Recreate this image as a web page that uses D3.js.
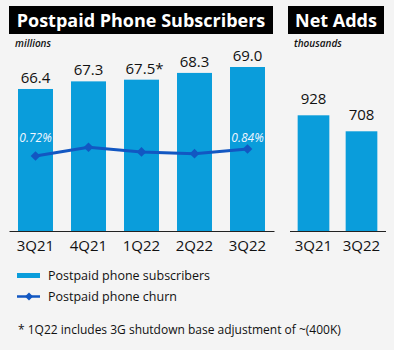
<!DOCTYPE html>
<html>
<head>
<meta charset="utf-8">
<script src="https://cdn.jsdelivr.net/npm/d3@7"></script>
<style>
  body { margin: 0; background: #f4f4f4; }
  svg { display: block; font-family: "Open Sans", sans-serif; }
</style>
</head>
<body>
<script>
const width = 394;
const height = 350;

// Data
const quarters = ["3Q21", "4Q21", "1Q22", "2Q22", "3Q22"];
const subscribers = [66.4, 67.3, 67.5, 68.3, 69.0];
const subLabels = ["66.4", "67.3", "67.5*", "68.3", "69.0"];
const churn = [0.72, 0.87, 0.79, 0.76, 0.84];
const churnLabels = ["0.72%", "", "", "", "0.84%"];
const addQuarters = ["3Q21", "3Q22"];
const netAdds = [928, 708];

const barColor = "#0a9ddb";
const lineColor = "#1257c2";

const svg = d3.select("body").append("svg")
    .attr("width", width)
    .attr("height", height);

svg.append("rect")
    .attr("width", width)
    .attr("height", height)
    .attr("fill", "#f4f4f4");

// Title boxes
function titleBox(x, w, text) {
    svg.append("rect")
        .attr("x", x).attr("y", 6)
        .attr("width", w).attr("height", 28)
        .attr("fill", "#000");
    svg.append("text")
        .attr("x", x + w / 2).attr("y", 27)
        .attr("text-anchor", "middle")
        .attr("fill", "#fff")
        .attr("font-weight", 700)
        .attr("font-size", 18)
        .text(text);
}
titleBox(9, 264, "Postpaid Phone Subscribers");
titleBox(288, 96, "Net Adds");

svg.append("text")
    .attr("x", 15).attr("y", 47)
    .attr("font-size", 10).attr("font-style", "italic").attr("font-weight", 600)
    .attr("fill", "#111")
    .text("millions");
svg.append("text")
    .attr("x", 294).attr("y", 47)
    .attr("font-size", 10).attr("font-style", "italic").attr("font-weight", 600)
    .attr("fill", "#111")
    .text("thousands");

const baseY = 231;

// Left chart: subscribers
const x = d3.scaleBand()
    .domain(quarters)
    .range([9, 274])
    .paddingInner(0.34)
    .paddingOuter(0.17);

const y = d3.scaleLinear()
    .domain([49.6, 69.0])
    .range([baseY, 67]);

svg.selectAll(".bar")
    .data(subscribers)
    .enter().append("rect")
    .attr("class", "bar")
    .attr("x", (d, i) => x(quarters[i]))
    .attr("y", d => y(d))
    .attr("width", x.bandwidth())
    .attr("height", d => baseY - y(d))
    .attr("fill", barColor);

svg.selectAll(".bar-label")
    .data(subscribers)
    .enter().append("text")
    .attr("class", "bar-label")
    .attr("x", (d, i) => x(quarters[i]) + x.bandwidth() / 2 + (subLabels[i].endsWith("*") ? 3 : 0))
    .attr("y", d => y(d) - 6)
    .attr("text-anchor", "middle")
    .attr("font-size", 15)
    .attr("fill", "#111")
    .text((d, i) => subLabels[i]);

// Churn line
const yc = d3.scaleLinear()
    .domain([0.72, 0.84])
    .range([156, 149]);

const line = d3.line()
    .x((d, i) => x(quarters[i]) + x.bandwidth() / 2)
    .y(d => yc(d));

svg.append("path")
    .datum(churn)
    .attr("d", line)
    .attr("fill", "none")
    .attr("stroke", lineColor)
    .attr("stroke-width", 3);

const diamond = d3.symbol().type(d3.symbolDiamond2).size(60);

svg.selectAll(".churn-pt")
    .data(churn)
    .enter().append("path")
    .attr("class", "churn-pt")
    .attr("transform", (d, i) => `translate(${x(quarters[i]) + x.bandwidth() / 2},${yc(d)})`)
    .attr("d", diamond)
    .attr("fill", lineColor);

svg.selectAll(".churn-label")
    .data(churn)
    .enter().append("text")
    .attr("class", "churn-label")
    .attr("x", (d, i) => x(quarters[i]) + x.bandwidth() / 2)
    .attr("y", 142)
    .attr("text-anchor", "middle")
    .attr("font-size", 12)
    .attr("font-style", "italic")
    .attr("fill", "#f0f6ff")
    .text((d, i) => churnLabels[i]);

// Left axis
const xAxis = svg.append("g")
    .attr("transform", `translate(0,${baseY})`)
    .call(d3.axisBottom(x).tickSize(0).tickSizeOuter(0).tickPadding(9));

// Right chart: net adds
const x2 = d3.scaleBand()
    .domain(addQuarters)
    .range([289.5, 385.5])
    .paddingInner(0.34)
    .paddingOuter(0.17);

const y2 = d3.scaleLinear()
    .domain([-663, 928])
    .range([baseY, 115.3]);

svg.selectAll(".bar2")
    .data(netAdds)
    .enter().append("rect")
    .attr("class", "bar2")
    .attr("x", (d, i) => x2(addQuarters[i]))
    .attr("y", d => y2(d))
    .attr("width", x2.bandwidth())
    .attr("height", d => baseY - y2(d))
    .attr("fill", barColor);

svg.selectAll(".bar2-label")
    .data(netAdds)
    .enter().append("text")
    .attr("class", "bar2-label")
    .attr("x", (d, i) => x2(addQuarters[i]) + x2.bandwidth() / 2)
    .attr("y", d => y2(d) - 11)
    .attr("text-anchor", "middle")
    .attr("font-size", 15)
    .attr("fill", "#111")
    .text(d => d);

const xAxis2 = svg.append("g")
    .attr("transform", `translate(0,${baseY})`)
    .call(d3.axisBottom(x2).tickSize(0).tickSizeOuter(0).tickPadding(9));

[xAxis, xAxis2].forEach(g => {
    g.select(".domain").attr("stroke", "#222").attr("stroke-width", 1.2);
    g.selectAll("text")
        .attr("font-family", "Open Sans, sans-serif")
        .attr("font-size", 15)
        .attr("fill", "#111");
});

// Legend
svg.append("rect")
    .attr("x", 17).attr("y", 273)
    .attr("width", 23).attr("height", 5)
    .attr("fill", barColor);
svg.append("text")
    .attr("x", 48).attr("y", 280)
    .attr("font-size", 12.5)
    .attr("fill", "#111")
    .text("Postpaid phone subscribers");

svg.append("line")
    .attr("x1", 17).attr("x2", 40)
    .attr("y1", 296.5).attr("y2", 296.5)
    .attr("stroke", lineColor)
    .attr("stroke-width", 2.5);
svg.append("path")
    .attr("transform", "translate(29,296.5)")
    .attr("d", d3.symbol().type(d3.symbolDiamond2).size(40))
    .attr("fill", lineColor);
svg.append("text")
    .attr("x", 48).attr("y", 301)
    .attr("font-size", 12.5)
    .attr("fill", "#111")
    .text("Postpaid phone churn");

// Footnote
svg.append("text")
    .attr("x", 18).attr("y", 334)
    .attr("font-size", 12)
    .attr("fill", "#111")
    .text("* 1Q22 includes 3G shutdown base adjustment of ~(400K)");
</script>
</body>
</html>
